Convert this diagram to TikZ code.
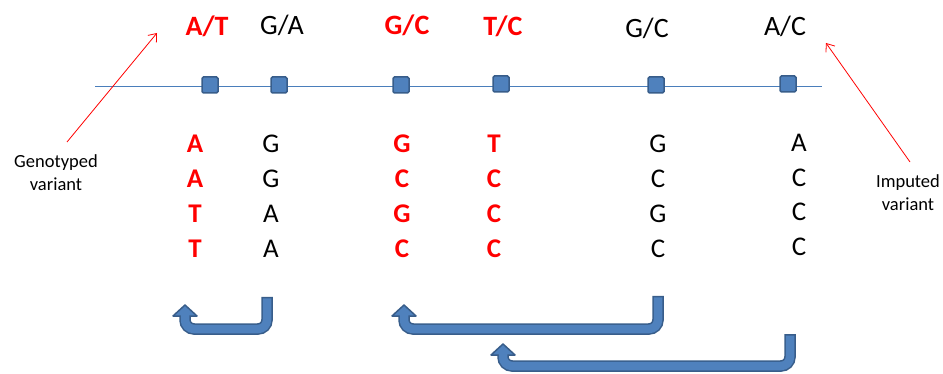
\documentclass[tikz,border=0pt]{standalone}
\usepackage{fontspec}
\setmainfont{Carlito}
\usetikzlibrary{arrows.meta}
\definecolor{snpfill}{HTML}{4F81BD}
\definecolor{snpedge}{HTML}{385D8A}
\definecolor{chrom}{HTML}{4A7EBB}
\definecolor{hl}{HTML}{FF0000}
\tikzset{
  snp/.style={minimum size=16pt, inner sep=0pt, fill=snpfill, draw=snpedge,
    line width=1.5pt, rounded corners=1.5pt},
  allele/.style={anchor=base, inner sep=0pt, font=\fontsize{28}{34}\selectfont},
  allelehl/.style={allele, text=hl, font=\fontsize{28}{34}\selectfont\bfseries},
  base/.style={anchor=base, inner sep=0pt, font=\fontsize{27}{33}\selectfont},
  basehl/.style={base, text=hl, font=\fontsize{27}{33}\selectfont\bfseries},
  caption/.style={align=center, inner sep=0pt, font=\fontsize{18.5}{23}\selectfont},
  pointer/.style={hl, line width=0.8pt, -{Straight Barb[length=7pt,width=11pt]}},
}
% U-shaped block arrow: stem x, stem top, band y, head x, head tip y, head base y
\newcommand\returnarrow[6]{%
  \draw[snpedge, line width=11.5pt, rounded corners=9pt]
    (#1,#2) -- (#1,#3) -- (#4,#3) -- (#4,{#6+1});
  \filldraw[fill=snpfill, draw=snpedge, line width=1.5pt, line join=round]
    ({#4-12},#6) -- (#4,#5) -- ({#4+12},#6) -- cycle;
  \draw[snpfill, line width=8.5pt, rounded corners=9pt]
    (#1,{#2+1.5}) -- (#1,#3) -- (#4,#3) -- (#4,{#6-2});
}
\begin{document}
\begin{tikzpicture}[x=1pt, y=-1pt]
\useasboundingbox (0,0) rectangle (943,374);

% chromosome line and variant markers
\coordinate (cl) at (95,86.5);
\coordinate (cr) at (822,86.5);
\draw[chrom, line width=1pt] (cl) -- (cr);
\node[snp] (s1) at (210,85) {};
\node[snp] (s2) at (279,85) {};
\node[snp] (s3) at (401,85) {};
\node[snp] (s4) at (501,84) {};
\node[snp] (s5) at (656,85) {};
\node[snp] (s6) at (788,84) {};

% alleles above the markers
\node[allelehl] (a1) at (207,36) {A/T};
\node[allele]   (a2) at (282,35) {G/A};
\node[allelehl] (a3) at (407,35) {G/C};
\node[allelehl] (a4) at (503,36) {T/C};
\node[allele]   (a5) at (647,38) {G/C};
\node[allele]   (a6) at (785,36) {A/C};

% haplotype columns
\foreach \ch [count=\r] in {A,A,T,T}
  \node[basehl] (h1r\r) at (195,{153+35*(\r-1)}) {\ch};
\foreach \ch [count=\r] in {G,G,A,A}
  \node[base] (h2r\r) at (271,{153+35*(\r-1)}) {\ch};
\foreach \ch [count=\r] in {G,C,G,C}
  \node[basehl] (h3r\r) at (402,{153+35*(\r-1)}) {\ch};
\foreach \ch [count=\r] in {T,C,C,C}
  \node[basehl] (h4r\r) at (494,{153+35*(\r-1)}) {\ch};
\foreach \ch [count=\r] in {G,C,G,C}
  \node[base] (h5r\r) at (658,{153+35*(\r-1)}) {\ch};
\foreach \ch [count=\r] in {A,C,C,C}
  \node[base] (h6r\r) at (799,{152+34.5*(\r-1)}) {\ch};

% side captions with pointers
\node[caption] (gt) at (56,173) {Genotyped\\variant};
\node[caption] (im) at (908,193) {Imputed\\variant};
\coordinate (gtfrom) at (67,142);
\coordinate (gtto) at (157,33);
\coordinate (imfrom) at (910,162);
\coordinate (imto) at (826,43);
\draw[pointer] (gtfrom) -- (gtto);
\draw[pointer] (imfrom) -- (imto);

% return arrows
\returnarrow{267}{297}{329}{185}{305}{316}
\returnarrow{658}{296}{329}{404}{305}{316}
\returnarrow{790}{334}{366}{503}{344}{355}
\end{tikzpicture}
\end{document}
